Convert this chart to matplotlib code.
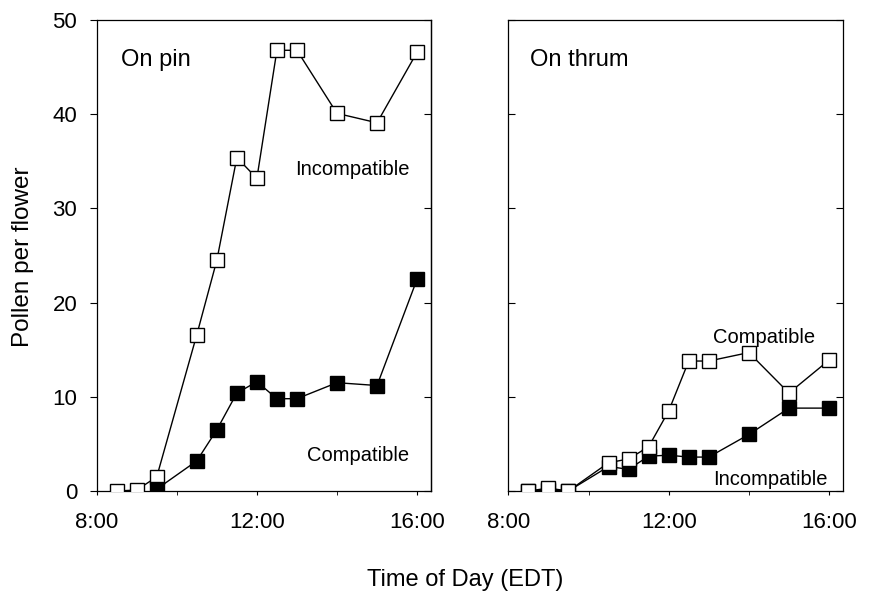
import numpy as np
import matplotlib
matplotlib.use("Agg")
import matplotlib.pyplot as plt

plt.rcParams['font.family'] = ['Liberation Sans', 'DejaVu Sans']

# time of day in hours
hours = [8.5, 9.0, 9.5, 10.5, 11.0, 11.5, 12.0, 12.5, 13.0, 14.0, 15.0, 16.0]

# on pin flowers (no compatible count before 9:30)
pin_incompat = [0.0, 0.1, 1.5, 16.6, 24.5, 35.4, 33.2, 46.8, 46.8, 40.1, 39.1, 46.6]
pin_compat = [np.nan, np.nan, 0.2, 3.2, 6.5, 10.4, 11.6, 9.8, 9.8, 11.5, 11.2, 22.5]

# on thrum flowers
thrum_compat = [0.0, 0.3, 0.0, 3.0, 3.4, 4.7, 8.5, 13.8, 13.8, 14.7, 10.4, 13.9]
thrum_incompat = [0.0, 0.1, 0.0, 2.6, 2.3, 3.7, 3.8, 3.6, 3.6, 6.0, 8.8, 8.8]

y_ticks = [0, 10, 20, 30, 40, 50]
x_major = [8, 12, 16]
x_major_labels = ['8:00', '12:00', '16:00']
x_minor = [10, 14]

fig = plt.figure(figsize=(8.71, 5.96), dpi=100)
ax1 = fig.add_axes([0.111, 0.1762, 0.3835, 0.790])
ax2 = fig.add_axes([0.5836, 0.1762, 0.3839, 0.790])

ms = 10


def setup(ax, show_labels):
    ax.set_xlim(8, 16.34)
    ax.set_ylim(0, 50)
    ax.set_xticks(x_major)
    ax.set_xticks(x_minor, minor=True)
    ax.set_xticklabels(x_major_labels)
    ax.set_yticks(y_ticks)
    for s in ax.spines.values():
        s.set_linewidth(0.9)
    ax.tick_params(axis='x', which='both', direction='out', length=3,
                   pad=12, labelsize=16)
    if show_labels:
        ax.tick_params(axis='y', direction='out', length=5, pad=9,
                       labelsize=16, right=False)
        sec = ax.secondary_yaxis('right')
        sec.set_yticks(y_ticks)
        sec.tick_params(direction='in', length=5, labelright=False)
        sec.spines['right'].set_linewidth(0.9)
    else:
        ax.tick_params(axis='y', direction='in', length=5, left=True,
                       right=True, labelleft=False)


setup(ax1, True)
setup(ax2, False)

ax1.plot(hours, pin_compat, '-s', color='black', lw=1, ms=ms,
         mfc='black', mec='black', zorder=4)
ax1.plot(hours, pin_incompat, '-s', color='black', lw=1, ms=ms,
         mfc='white', mec='black', zorder=3)

ax2.plot(hours, thrum_incompat, '-s', color='black', lw=1, ms=ms,
         mfc='black', mec='black', zorder=3)
ax2.plot(hours, thrum_compat, '-s', color='black', lw=1, ms=ms,
         mfc='white', mec='black', zorder=4)

ax1.text(8.6, 45.75, 'On pin', fontsize=17, ha='left', va='center')
ax1.text(14.39, 34.1, 'Incompatible', fontsize=14.5, ha='center', va='center')
ax1.text(14.53, 3.8, 'Compatible', fontsize=14.5, ha='center', va='center')

ax2.text(8.54, 45.75, 'On thrum', fontsize=17, ha='left', va='center')
ax2.text(14.39, 16.3, 'Compatible', fontsize=14.5, ha='center', va='center')
ax2.text(14.53, 1.24, 'Incompatible', fontsize=14.5, ha='center', va='center')

fig.text(23 / 871, 1 - 257 / 596, 'Pollen per flower', fontsize=17.5,
         rotation=90, ha='center', va='center')
fig.text(465 / 871, 1 - 580 / 596, 'Time of Day (EDT)', fontsize=17,
         ha='center', va='center')

fig.savefig('out.png', dpi=100)
